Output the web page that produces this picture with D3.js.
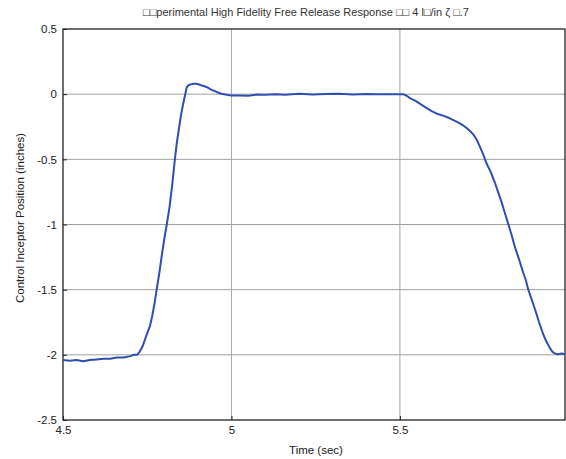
<!DOCTYPE html>
<html><head><meta charset="utf-8">
<script src="https://cdn.jsdelivr.net/npm/d3@7"></script>
<style>body{margin:0;background:#fff}svg{display:block}text{font-family:"Liberation Sans",Arial,sans-serif}</style>
</head><body><svg id="c" width="566" height="459"></svg>
<script>
const titleText = "\u25A1\u25A1perimental High Fidelity Free Release Response \u25A1\u25A1 4 l\u25A1/in \u03B6 \u25A1.7";
const xLabel = "Time (sec)";
const yLabel = "Control Inceptor Position (inches)";
const xTicks = [4.5, 5, 5.5];
const yTicks = [0.5, 0, -0.5, -1, -1.5, -2, -2.5];
const time = [4.5,4.52,4.54,4.56,4.58,4.6,4.62,4.64,4.66,4.68,4.7,4.71,4.72,4.728,4.737,4.745,4.752,4.758,4.765,4.772,4.778,4.786,4.793,4.8,4.808,4.816,4.824,4.832,4.838,4.845,4.851,4.857,4.862,4.867,4.872,4.877,4.887,4.897,4.91,4.926,4.94,4.956,4.97,4.986,5.0,5.025,5.05,5.075,5.1,5.13,5.16,5.2,5.24,5.28,5.32,5.36,5.4,5.44,5.48,5.51,5.52,5.53,5.545,5.559,5.575,5.594,5.61,5.628,5.648,5.668,5.684,5.698,5.708,5.718,5.728,5.737,5.747,5.757,5.77,5.782,5.792,5.802,5.812,5.822,5.832,5.841,5.854,5.866,5.874,5.881,5.891,5.901,5.913,5.925,5.935,5.945,5.952,5.96,5.97,5.98,5.99];
const position = [-2.04,-2.045,-2.04,-2.05,-2.04,-2.035,-2.03,-2.03,-2.02,-2.02,-2.01,-2.0,-2.0,-1.975,-1.93,-1.87,-1.82,-1.78,-1.7,-1.6,-1.5,-1.37,-1.24,-1.12,-1.0,-0.87,-0.7,-0.5,-0.37,-0.25,-0.15,-0.07,-0.01,0.05,0.068,0.073,0.08,0.08,0.068,0.055,0.035,0.017,0.003,-0.004,-0.01,-0.01,-0.012,-0.003,-0.005,0.0,-0.004,0.003,-0.002,0.002,0.003,-0.002,0.002,0.0,0.0,0.0,-0.012,-0.03,-0.05,-0.073,-0.1,-0.13,-0.15,-0.165,-0.185,-0.21,-0.233,-0.26,-0.283,-0.31,-0.35,-0.4,-0.46,-0.53,-0.6,-0.68,-0.755,-0.83,-0.915,-1.0,-1.085,-1.17,-1.27,-1.37,-1.43,-1.5,-1.575,-1.65,-1.75,-1.84,-1.9,-1.945,-1.975,-1.99,-1.995,-1.99,-1.995];

const svg = d3.select("#c");
const L = 63, R = 565, T = 29, B = 420;
const x = d3.scaleLinear().domain([4.5, 5.99]).range([L, R]);
const y = d3.scaleLinear().domain([-2.5, 0.5]).range([B, T]);
const fmt = d => String(d);

// grid
const g = svg.append("g");
g.selectAll(".gx").data(xTicks.slice(1)).enter().append("line")
  .attr("x1", d => x(d)).attr("x2", d => x(d)).attr("y1", T).attr("y2", B)
  .attr("stroke", "#a8a8a8").attr("stroke-width", 1);
g.selectAll(".gy").data(yTicks.filter(d => d > -2.5 && d < 0.5)).enter().append("line")
  .attr("y1", d => y(d)).attr("y2", d => y(d)).attr("x1", L).attr("x2", R)
  .attr("stroke", "#a0a0a0").attr("stroke-width", 1);

// axes
const xAxis = d3.axisBottom(x).tickValues(xTicks).tickSizeInner(-4).tickSizeOuter(0).tickPadding(7).tickFormat(fmt);
const yAxis = d3.axisLeft(y).tickValues(yTicks).tickSizeInner(-4).tickSizeOuter(0).tickPadding(6).tickFormat(fmt);
const ax = svg.append("g").attr("transform", `translate(0,${B})`).call(xAxis);
const ay = svg.append("g").attr("transform", `translate(${L},0)`).call(yAxis);
[ax, ay].forEach(a => {
  a.select(".domain").remove();
  a.selectAll(".tick line").attr("stroke", "#222");
  a.selectAll(".tick text").attr("font-size", 11.5).attr("fill", "#222").attr("font-family", '"Liberation Sans",Arial,sans-serif');
});
ax.selectAll(".tick text").attr("dy", "0.6em");

// box
svg.append("rect").attr("x", L).attr("y", T).attr("width", R - L).attr("height", B - T)
  .attr("fill", "none").attr("stroke", "#222").attr("stroke-width", 1.3);

// line
const line = d3.line().x((d, i) => x(time[i])).y(d => y(d)).curve(d3.curveLinear);
svg.append("path").datum(position).attr("d", line)
  .attr("fill", "none").attr("stroke", "#2f4fb0").attr("stroke-width", 2).attr("stroke-linejoin", "round");

// labels
svg.append("text").attr("x", 143).attr("y", 16).attr("font-size", 11).attr("fill", "#333").text(titleText);
svg.append("text").attr("x", 316).attr("y", 454).attr("text-anchor", "middle").attr("font-size", 11.5).attr("fill", "#222").text(xLabel);
svg.append("text").attr("transform", "translate(24,218) rotate(-90)").attr("text-anchor", "middle").attr("font-size", 11.5).attr("fill", "#222").text(yLabel);
</script></body></html>
